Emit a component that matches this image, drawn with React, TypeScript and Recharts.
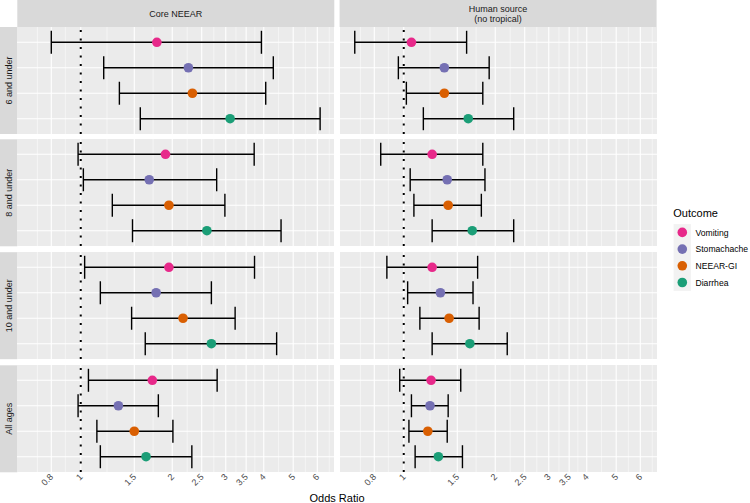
import React from 'react';
import { ScatterChart, Scatter, XAxis, YAxis, CartesianGrid, ReferenceLine, ErrorBar } from 'recharts';

const outcomes = ['Vomiting', 'Stomachache', 'NEEAR-GI', 'Diarrhea'];
const ageGroups = ['6 and under', '8 and under', '10 and under', 'All ages'];
const xTicks = [0.8, 1, 1.5, 2, 2.5, 3, 3.5, 4, 5, 6];
const minorTicks = [0.72, 0.89, 1.22, 1.73, 2.24, 2.74, 3.24, 3.74, 4.47, 5.48, 6.57];

// Core NEEAR: one row per age group, outcomes in the order above
const coreOR = [
  [1.78, 2.26, 2.33, 3.1],
  [1.9, 1.68, 1.95, 2.6],
  [1.95, 1.77, 2.17, 2.69],
  [1.72, 1.33, 1.5, 1.64],
];
const coreLow = [
  [0.8, 1.19, 1.34, 1.57],
  [0.98, 1.02, 1.27, 1.48],
  [1.03, 1.16, 1.47, 1.63],
  [1.06, 0.98, 1.13, 1.16],
];
const coreHigh = [
  [3.93, 4.3, 4.06, 6.13],
  [3.72, 2.8, 2.98, 4.56],
  [3.73, 2.69, 3.22, 4.41],
  [2.81, 1.8, 2.01, 2.32],
];

// Human source (no tropical)
const humanOR = [
  [1.06, 1.36, 1.36, 1.63],
  [1.24, 1.39, 1.4, 1.68],
  [1.24, 1.32, 1.41, 1.65],
  [1.23, 1.22, 1.2, 1.3],
];
const humanLow = [
  [0.69, 0.96, 1.02, 1.16],
  [0.84, 1.05, 1.08, 1.24],
  [0.88, 1.03, 1.13, 1.24],
  [0.97, 1.06, 1.04, 1.09],
];
const humanHigh = [
  [1.61, 1.91, 1.82, 2.3],
  [1.82, 1.85, 1.8, 2.3],
  [1.75, 1.69, 1.77, 2.19],
  [1.54, 1.4, 1.39, 1.56],
];

const colors = ['#E7298A', '#7570B3', '#D95F02', '#1B9E77'];

const PANEL_W = 317;
const PANEL_H = 107;
const AXIS_H = 30;
const colLeft = [17.3, 339.6];
const rowTop = [27, 139.3, 252.2, 365.3];

const AngledTick = (props: any) => {
  const { x, y, payload } = props;
  const tx = x + 2.5;
  const ty = y + 5.5;
  return (
    <text x={tx} y={ty} transform={`rotate(-45 ${tx} ${ty})`} textAnchor="end" fill="#4D4D4D" fontSize={9}>
      {payload.value}
    </text>
  );
};

interface PanelProps {
  or: number[];
  lo: number[];
  hi: number[];
  showAxis: boolean;
}

const Panel: React.FC<PanelProps> = ({ or, lo, hi, showAxis }) => {
  const data = outcomes.map((o, i) => ({
    outcome: o,
    idx: i,
    pos: i + 1,
    or: or[i],
    err: [or[i] - lo[i], hi[i] - or[i]],
  }));

  return (
    <ScatterChart width={PANEL_W} height={showAxis ? PANEL_H + AXIS_H : PANEL_H} margin={{ top: 0, right: 0, bottom: 0, left: 0 }}>
      <CartesianGrid fill="#EBEBEB" stroke="#FFFFFF" strokeWidth={0.5} horizontal={false} verticalValues={minorTicks} />
      <CartesianGrid stroke="#FFFFFF" strokeWidth={1.1} horizontalValues={[1, 2, 3, 4]} verticalValues={xTicks} />
      <XAxis
        type="number"
        dataKey="or"
        scale="log"
        domain={[0.617, 6.81]}
        allowDataOverflow
        ticks={xTicks}
        interval={0}
        hide={!showAxis}
        height={AXIS_H}
        axisLine={false}
        tickLine={false}
        tickSize={0}
        tickMargin={0}
        tick={<AngledTick />}
      />
      <YAxis type="number" dataKey="pos" domain={[0.4, 4.6]} ticks={[1, 2, 3, 4]} reversed hide allowDataOverflow />
      <ReferenceLine x={1} stroke="#000000" strokeWidth={2} strokeDasharray="2 6.5" />
      <Scatter data={data} isAnimationActive={false} shape={() => <g />}>
        <ErrorBar dataKey="err" direction="x" width={11.5} stroke="#000000" strokeWidth={1.4} isAnimationActive={false} />
      </Scatter>
      <Scatter
        data={data}
        isAnimationActive={false}
        shape={(p: any) => <circle cx={p.cx} cy={p.cy} r={4.8} fill={colors[p.payload.idx]} />}
      />
    </ScatterChart>
  );
};

const App: React.FC = () => {
  const sets = [
    { or: coreOR, lo: coreLow, hi: coreHigh },
    { or: humanOR, lo: humanLow, hi: humanHigh },
  ];

  return (
    <div
      style={{
        position: 'absolute',
        left: 0,
        top: 0,
        width: 750,
        height: 503,
        overflow: 'hidden',
        background: '#FFFFFF',
        fontFamily: '"Liberation Sans", Arial, sans-serif',
      }}
    >
      <svg width={750} height={503} style={{ position: 'absolute', left: 0, top: 0 }}>
        {/* column strips */}
        <rect x={colLeft[0]} y={0} width={PANEL_W} height={27} fill="#D9D9D9" />
        <rect x={colLeft[1]} y={0} width={PANEL_W} height={27} fill="#D9D9D9" />
        <text x={colLeft[0] + PANEL_W / 2} y={17.4} textAnchor="middle" fontSize={9} fill="#1A1A1A">
          Core NEEAR
        </text>
        <text x={colLeft[1] + PANEL_W / 2} y={12} textAnchor="middle" fontSize={9} fill="#1A1A1A">
          Human source
        </text>
        <text x={colLeft[1] + PANEL_W / 2} y={21.8} textAnchor="middle" fontSize={9} fill="#1A1A1A">
          (no tropical)
        </text>

        {/* row strips */}
        {ageGroups.map((g, r) => {
          const cy = rowTop[r] + PANEL_H / 2;
          return (
            <g key={g}>
              <rect x={0} y={rowTop[r]} width={17.3} height={PANEL_H} fill="#D9D9D9" />
              <text x={12.3} y={cy} transform={`rotate(-90 12.3 ${cy})`} textAnchor="middle" fontSize={9} fill="#1A1A1A">
                {g}
              </text>
            </g>
          );
        })}

        {/* axis title */}
        <text x={337} y={501.5} textAnchor="middle" fontSize={11} fill="#000000">
          Odds Ratio
        </text>

        {/* legend */}
        <text x={673.3} y={217} fontSize={11} fill="#000000">
          Outcome
        </text>
        <rect x={673.6} y={224.1} width={17.3} height={66.8} fill="#F2F2F2" />
        {outcomes.map((o, i) => (
          <g key={o}>
            <circle cx={682.3} cy={232.4 + i * 16.7} r={4.8} fill={colors[i]} />
            <text x={695.5} y={235.6 + i * 16.7} fontSize={8.6} fill="#000000">
              {o}
            </text>
          </g>
        ))}
      </svg>

      {sets.map((s, c) =>
        ageGroups.map((g, r) => (
          <div key={`${c}-${r}`} style={{ position: 'absolute', left: colLeft[c], top: rowTop[r] }}>
            <Panel or={s.or[r]} lo={s.lo[r]} hi={s.hi[r]} showAxis={r === ageGroups.length - 1} />
          </div>
        ))
      )}
    </div>
  );
};

export default App;
